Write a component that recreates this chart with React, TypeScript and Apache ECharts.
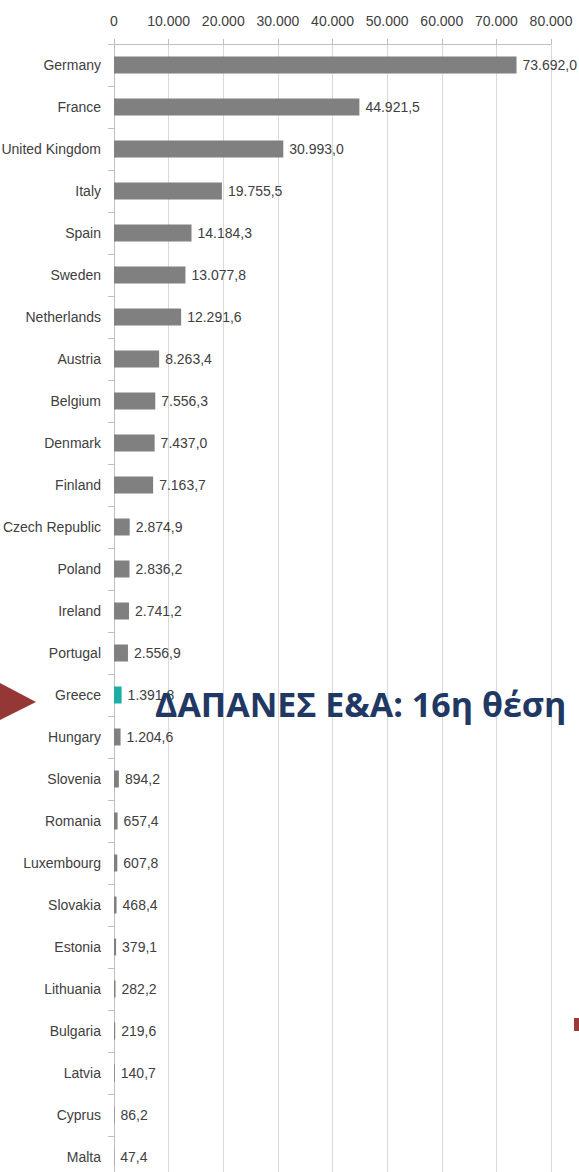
import React, { useEffect, useRef } from "react";
import * as echarts from "echarts";

const countries = [
  "Germany", "France", "United Kingdom", "Italy", "Spain", "Sweden", "Netherlands",
  "Austria", "Belgium", "Denmark", "Finland", "Czech Republic", "Poland", "Ireland",
  "Portugal", "Greece", "Hungary", "Slovenia", "Romania", "Luxembourg", "Slovakia",
  "Estonia", "Lithuania", "Bulgaria", "Latvia", "Cyprus", "Malta",
];
const values = [
  73692.0, 44921.5, 30993.0, 19755.5, 14184.3, 13077.8, 12291.6,
  8263.4, 7556.3, 7437.0, 7163.7, 2874.9, 2836.2, 2741.2,
  2556.9, 1391.8, 1204.6, 894.2, 657.4, 607.8, 468.4,
  379.1, 282.2, 219.6, 140.7, 86.2, 47.4,
];
const highlight = "Greece";
const axisMax = 80000;
const axisInterval = 10000;
const annotation = "ΔΑΠΑΝΕΣ Ε&Α: 16η θέση";

const FONT = "'Liberation Sans', Arial, sans-serif";

function fmtThousands(n: number): string {
  return String(Math.round(n)).replace(/\B(?=(\d{3})+(?!\d))/g, ".");
}
function fmtValue(n: number): string {
  const [i, d] = n.toFixed(1).split(".");
  return i.replace(/\B(?=(\d{3})+(?!\d))/g, ".") + "," + d;
}

export default function App() {
  const ref = useRef<HTMLDivElement>(null);
  useEffect(() => {
    document.body.style.margin = "0";
    const chart = echarts.init(ref.current!, null, { renderer: "svg" });
    chart.setOption({
      animation: false,
      textStyle: { fontFamily: FONT },
      grid: {
        left: 114, right: 28, top: 44, bottom: 0,
        containLabel: false, outerBoundsMode: "none",
      },
      xAxis: {
        type: "value",
        position: "top",
        min: 0,
        max: axisMax,
        interval: axisInterval,
        axisLine: { show: true, lineStyle: { color: "#bfbfbf", width: 1 } },
        axisTick: { show: true, length: 5, lineStyle: { color: "#bfbfbf" } },
        axisLabel: {
          margin: 16,
          fontSize: 14,
          color: "#404040",
          fontFamily: FONT,
          formatter: (v: number) => fmtThousands(v),
        },
        splitLine: { show: true, lineStyle: { color: "#d9d9d9", width: 1 } },
      },
      yAxis: {
        type: "category",
        inverse: true,
        data: countries,
        axisLine: { show: true, lineStyle: { color: "#bfbfbf", width: 1 } },
        axisTick: { show: true, length: 6, lineStyle: { color: "#bfbfbf" } },
        axisLabel: { margin: 13, fontSize: 14, color: "#404040", fontFamily: FONT },
      },
      series: [
        {
          type: "bar",
          barWidth: 17,
          data: values.map((v, i) => ({
            value: v,
            itemStyle: { color: countries[i] === highlight ? "#19aea6" : "#808080" },
          })),
          label: {
            show: true,
            position: "right",
            distance: 6,
            fontSize: 14,
            color: "#404040",
            fontFamily: FONT,
            formatter: (p: any) => fmtValue(p.value),
          },
        },
      ],
      graphic: [
        {
          type: "polygon",
          shape: { points: [[0, 683], [36, 702], [0, 720]] },
          style: { fill: "#953735" },
          z: 100,
        },
        {
          type: "rect",
          shape: { x: 574, y: 1018, width: 5, height: 13 },
          style: { fill: "#9b3a38" },
          z: 100,
        },
        {
          type: "text",
          x: 155,
          y: 704,
          z: 100,
          style: {
            text: annotation,
            fill: "#1f3864",
            font: "bold 34px 'Open Sans', 'Noto Sans', sans-serif",
            textVerticalAlign: "middle",
            verticalAlign: "middle",
          },
        },
      ],
    });
    return () => chart.dispose();
  }, []);
  return (
    <div
      ref={ref}
      style={{ position: "absolute", left: 0, top: 0, width: 579, height: 1178 }}
    />
  );
}
